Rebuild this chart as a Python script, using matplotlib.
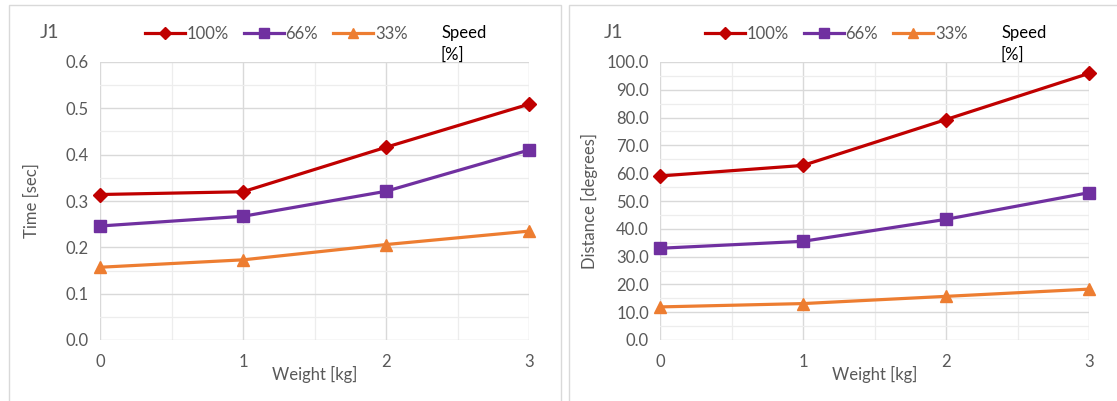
import matplotlib.pyplot as plt
from matplotlib.patches import Rectangle
from matplotlib.ticker import MultipleLocator
from matplotlib.lines import Line2D

plt.rcParams['font.family'] = ['Lato', 'DejaVu Sans']

weights = [0, 1, 2, 3]
speed_labels = ["100%", "66%", "33%"]
colors = ["#C00000", "#7030A0", "#ED7D31"]
markers = ["D", "s", "^"]
marker_sizes = [7.5, 8.5, 9]

time_100 = [0.314, 0.320, 0.416, 0.509]
time_66 = [0.246, 0.267, 0.321, 0.410]
time_33 = [0.157, 0.173, 0.206, 0.235]

dist_100 = [59.0, 62.8, 79.3, 95.9]
dist_66 = [33.0, 35.5, 43.4, 53.0]
dist_33 = [11.9, 13.1, 15.7, 18.3]

text_col = "#595959"

fig = plt.figure(figsize=(11.17, 4.01), dpi=100)
W, H = 1117, 401


def px(x0, y0, x1, y1):
    return [x0 / W, 1 - y1 / H, (x1 - x0) / W, (y1 - y0) / H]


# panel borders
for x0, x1 in [(9, 561), (569, 1125)]:
    fig.patches.append(Rectangle((x0 / W, -0.05), (x1 - x0) / W, 1 - 5 / H + 0.05,
                                 transform=fig.transFigure, fill=False,
                                 edgecolor="#D9D9D9", linewidth=1.0))


def make_panel(rect, series, ymax, ymajor, ylabel, ylab_x, j_x, leg_x, speed_x):
    ax = fig.add_axes(rect)
    for vals, c, m, ms, lab in zip(series, colors, markers, marker_sizes, speed_labels):
        ax.plot(weights, vals, color=c, marker=m, markersize=ms, linewidth=2.3,
                label=lab, clip_on=False, zorder=3)
    ax.set_xlim(0, 3)
    ax.set_ylim(0, ymax)
    ax.xaxis.set_major_locator(MultipleLocator(1))
    ax.xaxis.set_minor_locator(MultipleLocator(0.5))
    ax.yaxis.set_major_locator(MultipleLocator(ymajor))
    ax.yaxis.set_minor_locator(MultipleLocator(ymajor / 2))
    ax.yaxis.set_major_formatter(plt.FuncFormatter(lambda v, p: f"{v:.1f}"))
    ax.grid(which="major", color="#D9D9D9", linewidth=1.0)
    ax.grid(which="minor", color="#EDEDED", linewidth=0.9)
    ax.set_axisbelow(True)
    for s in ax.spines.values():
        s.set_visible(False)
    ax.tick_params(which="both", length=0, labelsize=12, colors=text_col)
    ax.tick_params(axis="x", pad=10)
    ax.tick_params(axis="y", pad=8)
    ax.set_xlabel("Weight [kg]", fontsize=12, color=text_col, labelpad=-3)
    ax.set_ylabel(ylabel, fontsize=12, color=text_col)
    ax.yaxis.set_label_coords(ylab_x, 0.5)
    fig.text(j_x / W, 1 - 33 / H, "J1", fontsize=14, color=text_col, va="center")
    handles = [Line2D([], [], color=c, marker=m, markersize=ms - 1.5, linewidth=2.3)
               for c, m, ms in zip(colors, markers, marker_sizes)]
    fig.legend(handles, speed_labels, loc="center left", ncol=3,
               bbox_to_anchor=(leg_x / W, 1 - 34 / H), frameon=False,
               fontsize=12, labelcolor=text_col, handlelength=2.4,
               handletextpad=0.1, columnspacing=0.9, borderaxespad=0, borderpad=0)
    fig.text(speed_x / W, 1 - 33 / H, "Speed", fontsize=12, color="black", va="center")
    fig.text(speed_x / W, 1 - 55 / H, "[%]", fontsize=12, color="black", va="center")
    return ax


make_panel(px(100, 62, 529, 340), [time_100, time_66, time_33], 0.6, 0.1,
           "Time [sec]", -0.14, 40, 145, 441)
make_panel(px(660, 62, 1089, 340), [dist_100, dist_66, dist_33], 100, 10,
           "Distance [degrees]", -0.145, 604, 705, 1001)

fig.savefig("out.png", dpi=100)
